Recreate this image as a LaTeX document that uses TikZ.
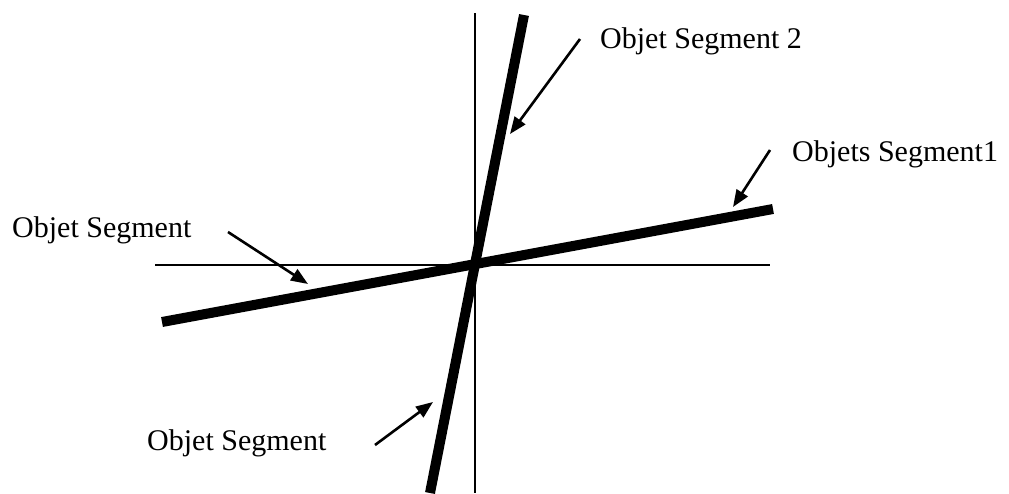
\documentclass[tikz,border=0pt]{standalone}
\usepackage{fontspec}
\setmainfont{Liberation Serif}
\usetikzlibrary{arrows.meta, positioning}

\begin{document}
\begin{tikzpicture}[x=1pt, y=-1pt,
    every node/.style={font=\fontsize{30}{34}\selectfont, inner sep=0pt},
    axis/.style={line width=1.6pt},
    segment/.style={line width=10pt},
    pointer/.style={line width=2.6pt, -{Triangle[length=17pt, width=13pt]}}
]
\useasboundingbox (0,0) rectangle (1009,493);
% axes
\coordinate (ytop) at (475,13);
\coordinate (ybot) at (475,493);
\coordinate (xleft) at (155,265);
\coordinate (xright) at (770,265);
\draw[axis] (ytop) -- (ybot);
\draw[axis] (xleft) -- (xright);
% segments
\coordinate (s1a) at (162,322);
\coordinate (s1b) at (773,209);
\coordinate (s2a) at (524,15);
\coordinate (s2b) at (430,493);
\draw[segment] (s1a) -- (s1b);
\draw[segment] (s2a) -- (s2b);
% labels
\node[anchor=base west] (seg2) at (600,48) {Objet Segment 2};
\node[anchor=base west] (seg1) at (792,161) {Objets Segment1};
\node[anchor=base west] (segl) at (12,237) {Objet Segment};
\node[anchor=base west] (segb) at (147,450) {Objet Segment};
% pointers
\coordinate (p2a) at (580,39);  \coordinate (p2b) at (510,134);
\coordinate (p1a) at (770,150); \coordinate (p1b) at (733,207);
\coordinate (pla) at (228,232); \coordinate (plb) at (308,284);
\coordinate (pba) at (375,445); \coordinate (pbb) at (433,402);
\draw[pointer] (p2a) -- (p2b);
\draw[pointer] (p1a) -- (p1b);
\draw[pointer] (pla) -- (plb);
\draw[pointer] (pba) -- (pbb);
\end{tikzpicture}
\end{document}
